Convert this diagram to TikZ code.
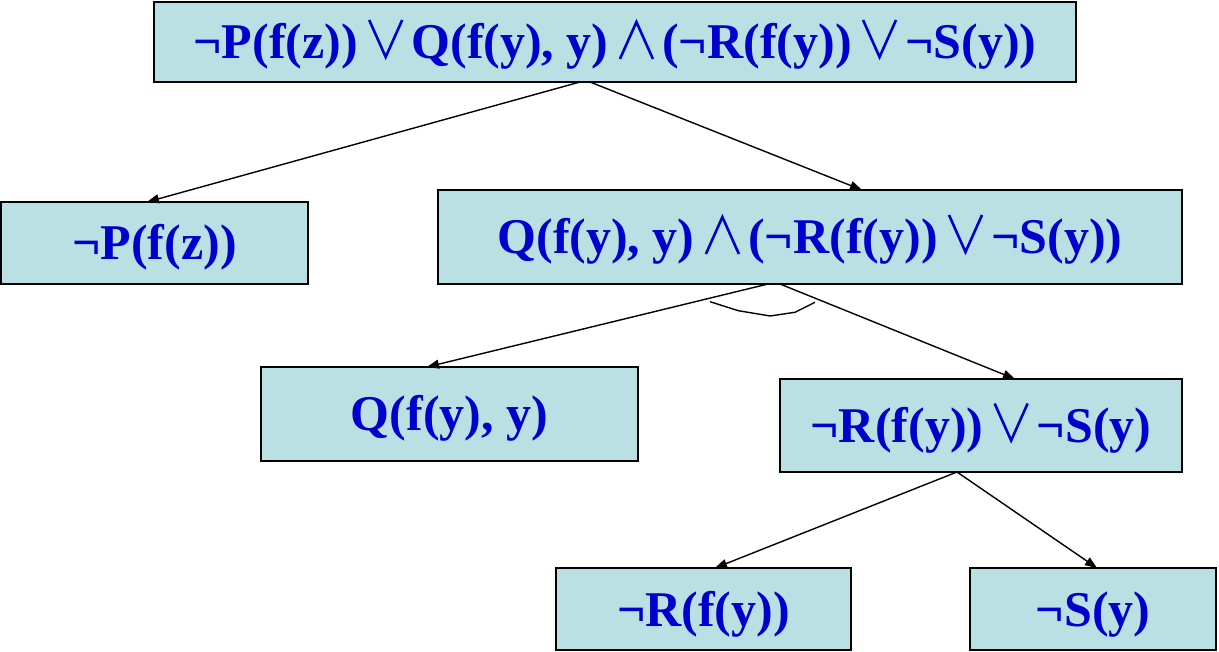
\documentclass[tikz,border=0pt]{standalone}
\usepackage{fontspec}
\setmainfont{Liberation Serif}
\usetikzlibrary{arrows.meta}
\definecolor{boxfill}{HTML}{BBE0E3}
\definecolor{txtblue}{HTML}{0000CC}
\newcommand\myor{\hspace{10pt}\tikz[baseline=0pt,x=1pt,y=1pt]\draw[draw=txtblue,line width=2.6pt,line join=miter] (0,39)--(16.5,2)--(33,39);\hspace{8pt}}
\newcommand\myand{\hspace{10pt}\tikz[baseline=0pt,x=1pt,y=1pt]\draw[draw=txtblue,line width=2.6pt,line join=miter] (0,0)--(16.5,37)--(33,0);\hspace{8pt}}
\tikzset{
  fbox/.style={draw=black, line width=2pt, fill=boxfill, inner sep=0pt, outer sep=0pt,
    font=\fontsize{50}{54}\selectfont\bfseries, text=txtblue, text height=40pt, text depth=6pt},
  arr/.style={line width=1.4pt, -{Triangle[length=12pt,width=9pt]}},
  plain/.style={line width=1.4pt}
}
\begin{document}
\begin{tikzpicture}[x=1pt,y=-1pt]
\useasboundingbox (0,0) rectangle (1219,652);
\node[fbox, minimum width=922pt, minimum height=80pt] (top) at (615,42)
  {¬P(f(z))\myor Q(f(y), y)\myand(¬R(f(y))\myor¬S(y))};
\node[fbox, minimum width=307pt, minimum height=82pt] (np) at (154.5,243) {¬P(f(z))};
\node[fbox, minimum width=744pt, minimum height=94pt] (q1) at (810,237)
  {Q(f(y), y)\myand(¬R(f(y))\myor¬S(y))};
\node[fbox, minimum width=377pt, minimum height=94pt] (q) at (449.5,414) {Q(f(y), y)};
\node[fbox, minimum width=402pt, minimum height=93pt] (rs) at (981,425.5) {¬R(f(y))\myor¬S(y)};
\node[fbox, minimum width=295pt, minimum height=82pt] (r) at (703.5,609) {¬R(f(y))};
\node[fbox, minimum width=246pt, minimum height=82pt] (s) at (1093,609) {¬S(y)};
\draw[arr] ([xshift=-35pt]top.south) -- ([xshift=-7.5pt]np.north);
\draw[arr] ([xshift=-25pt]top.south) -- ([xshift=52pt]q1.north);
\draw[arr] ([xshift=-42pt]q1.south) -- ([xshift=-22.5pt]q.north);
\draw[arr] ([xshift=-30pt]q1.south) -- ([xshift=34pt]rs.north);
\draw[arr] ([xshift=-24pt]rs.south) -- ([xshift=11.5pt]r.north);
\draw[arr] ([xshift=-24pt]rs.south) -- ([xshift=4pt]s.north);
\draw[plain] (710,301.7) -- (738.3,310.7) -- (770,316) -- (795,312.3) -- (815,302.3);
\end{tikzpicture}
\end{document}
